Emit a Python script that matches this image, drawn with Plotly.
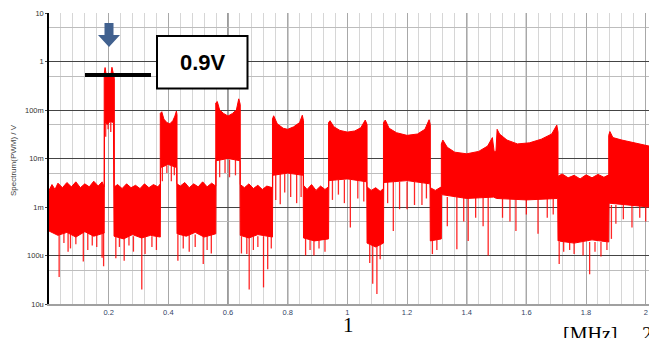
import plotly.graph_objects as go

# ---------------- data ----------------
# Upper envelope of the PWM spectrum: frequency [MHz], amplitude [V]
upper_freq = [0.000, 0.010, 0.020, 0.030, 0.045, 0.060, 0.075, 0.090, 0.105, 0.120, 0.135, 0.150, 0.165, 0.178, 0.185,
              0.185, 0.188, 0.192, 0.200, 0.207, 0.211, 0.215, 0.219,
              0.219, 0.230, 0.245, 0.260, 0.275, 0.290, 0.305, 0.320, 0.335, 0.350, 0.365, 0.373,
              0.373, 0.378, 0.385, 0.395, 0.405, 0.415, 0.422, 0.427, 0.429,
              0.429, 0.440, 0.455, 0.470, 0.485, 0.500, 0.515, 0.530, 0.545, 0.559,
              0.559, 0.564, 0.572, 0.585, 0.600, 0.615, 0.628, 0.636, 0.641,
              0.641, 0.655, 0.670, 0.685, 0.700, 0.715, 0.730, 0.749,
              0.749, 0.753, 0.765, 0.785, 0.800, 0.820, 0.840, 0.849, 0.853,
              0.853, 0.865, 0.880, 0.895, 0.910, 0.925, 0.937,
              0.937, 0.942, 0.955, 0.975, 1.000, 1.025, 1.045, 1.060, 1.066,
              1.066, 1.080, 1.095, 1.110, 1.121,
              1.121, 1.127, 1.140, 1.165, 1.200, 1.235, 1.260, 1.274, 1.278,
              1.278, 1.295, 1.315,
              1.315, 1.320, 1.335, 1.360, 1.400, 1.440, 1.470, 1.486, 1.492,
              1.498, 1.502, 1.510, 1.535, 1.570, 1.610, 1.650, 1.685, 1.702, 1.706,
              1.706, 1.720, 1.740, 1.760, 1.780, 1.800, 1.820, 1.840, 1.860, 1.876,
              1.876, 1.880, 1.890, 1.920, 1.950, 1.980, 2.012]
upper_volt = [2.2e-3, 2.9e-3, 2.3e-3, 3.1e-3, 2.5e-3, 3.2e-3, 2.6e-3, 3.3e-3, 2.5e-3, 3.0e-3, 2.6e-3, 3.4e-3, 2.7e-3, 3.3e-3, 2.6e-3,
              0.55, 0.75, 0.52, 0.58, 0.50, 0.76, 0.55, 0.45,
              2.6e-3, 2.9e-3, 2.4e-3, 3.0e-3, 2.5e-3, 2.8e-3, 2.4e-3, 3.0e-3, 2.5e-3, 2.9e-3, 2.6e-3, 3.0e-3,
              0.085, 0.092, 0.065, 0.055, 0.052, 0.060, 0.075, 0.095, 0.080,
              3.0e-3, 2.7e-3, 3.2e-3, 2.5e-3, 3.0e-3, 2.6e-3, 3.3e-3, 2.6e-3, 3.1e-3, 2.7e-3,
              0.14, 0.15, 0.10, 0.085, 0.075, 0.085, 0.10, 0.17, 0.13,
              2.9e-3, 2.5e-3, 3.0e-3, 2.4e-3, 2.8e-3, 2.3e-3, 2.7e-3, 2.5e-3,
              0.065, 0.076, 0.052, 0.042, 0.040, 0.045, 0.055, 0.078, 0.060,
              2.8e-3, 2.3e-3, 2.9e-3, 2.2e-3, 2.7e-3, 2.3e-3, 2.6e-3,
              0.055, 0.060, 0.045, 0.038, 0.035, 0.037, 0.043, 0.062, 0.050,
              2.6e-3, 2.2e-3, 2.5e-3, 2.1e-3, 2.4e-3,
              0.055, 0.062, 0.042, 0.034, 0.030, 0.032, 0.040, 0.063, 0.050,
              2.5e-3, 2.2e-3, 2.6e-3,
              0.020, 0.024, 0.017, 0.0135, 0.0125, 0.014, 0.018, 0.027, 0.014,
              0.014, 0.040, 0.032, 0.024, 0.020, 0.021, 0.025, 0.032, 0.049, 0.035,
              4.3e-3, 4.8e-3, 4.0e-3, 4.5e-3, 3.8e-3, 4.6e-3, 4.0e-3, 4.7e-3, 4.1e-3, 4.6e-3,
              0.030, 0.036, 0.027, 0.024, 0.022, 0.020, 0.018]

# Lower envelope of the dense part of the spectrum
lower_freq = [0.000, 0.030, 0.060, 0.090, 0.120, 0.150, 0.185,
              0.186, 0.195, 0.205, 0.216, 0.218,
              0.219, 0.250, 0.280, 0.310, 0.340, 0.373,
              0.374, 0.400, 0.428,
              0.429, 0.460, 0.490, 0.520, 0.559,
              0.560, 0.600, 0.640,
              0.641, 0.670, 0.700, 0.749,
              0.750, 0.800, 0.852,
              0.853, 0.890, 0.937,
              0.938, 1.000, 1.065,
              1.066, 1.095, 1.121,
              1.122, 1.200, 1.277,
              1.278, 1.315,
              1.316, 1.400, 1.490,
              1.500, 1.600, 1.705,
              1.706, 1.760, 1.820, 1.876,
              1.877, 1.950, 2.012]
lower_volt = [3.2e-4, 2.6e-4, 3.0e-4, 2.4e-4, 3.1e-4, 2.5e-4, 2.9e-4,
              0.060, 0.050, 0.058, 0.055, 2.5e-4,
              2.5e-4, 2.2e-4, 2.7e-4, 2.3e-4, 2.6e-4, 2.4e-4,
              0.0065, 0.0075, 0.0065,
              2.8e-4, 2.5e-4, 3.0e-4, 2.4e-4, 2.8e-4,
              0.0090, 0.0100, 0.0090,
              2.6e-4, 2.3e-4, 2.7e-4, 2.4e-4,
              0.0045, 0.0050, 0.0045,
              2.3e-4, 2.0e-4, 2.2e-4,
              0.0035, 0.0038, 0.0033,
              1.8e-4, 1.5e-4, 1.8e-4,
              0.0032, 0.0035, 0.0030,
              2.0e-4, 2.2e-4,
              0.0018, 0.0015, 0.0016,
              0.0015, 0.0014, 0.0015,
              2.0e-4, 1.8e-4, 2.1e-4, 1.9e-4,
              0.0012, 0.0011, 0.0010]

# Downward spikes below the dense part: frequency [MHz], from top [V] to bottom [V]
spike_freq = [0.034, 0.050, 0.064, 0.072, 0.090, 0.115, 0.130, 0.145, 0.160, 0.178, 0.183,
              0.190, 0.198, 0.207,
              0.224, 0.236, 0.252, 0.268, 0.283, 0.311, 0.322, 0.345, 0.360,
              0.380, 0.395, 0.410, 0.420,
              0.432, 0.450, 0.470, 0.490, 0.517, 0.530, 0.544,
              0.572, 0.590, 0.605, 0.625,
              0.645, 0.663, 0.671, 0.685, 0.700, 0.719, 0.733, 0.745,
              0.760, 0.775, 0.790, 0.810, 0.830, 0.845,
              0.860, 0.875, 0.888, 0.905, 0.925,
              0.950, 0.970, 0.990, 1.010, 1.035, 1.055,
              1.075, 1.085, 1.099, 1.110,
              1.135, 1.154, 1.175, 1.200, 1.225, 1.250, 1.265,
              1.285, 1.300,
              1.335, 1.367, 1.390, 1.405, 1.430, 1.455, 1.472,
              1.520, 1.545, 1.565, 1.600, 1.639, 1.670, 1.690,
              1.710, 1.725, 1.745, 1.760, 1.790, 1.812, 1.830, 1.850, 1.870,
              1.885, 1.900, 1.925, 1.954, 1.980, 2.000]
spike_top = [3e-4] * 11 + [0.058] * 3 + [2.5e-4] * 9 + [0.007] * 4 + [2.7e-4] * 7 + [0.0095] * 4 + \
            [2.5e-4] * 8 + [0.0048] * 6 + [2.2e-4] * 5 + [0.0036] * 6 + [1.7e-4] * 4 + [0.0033] * 7 + \
            [2.1e-4] * 2 + [0.0016] * 7 + [0.0015] * 7 + [1.9e-4] * 9 + [0.0011] * 6
spike_bottom = [3.6e-5, 1.8e-4, 1.2e-4, 1.4e-4, 1.7e-4, 7.5e-5, 1.3e-4, 1.6e-4, 1.5e-4, 9.0e-5, 6.0e-5,
                0.028, 0.040, 0.035,
                8.8e-5, 1.5e-4, 7.8e-5, 1.6e-4, 1.2e-4, 2.0e-5, 1.07e-4, 1.5e-4, 1.3e-4,
                0.0034, 0.0050, 0.0034, 0.0045,
                7.8e-5, 1.4e-4, 1.2e-4, 1.5e-4, 6.7e-5, 1.3e-4, 1.1e-4,
                0.0041, 0.0050, 0.0041, 0.0045,
                1.1e-4, 1.07e-4, 2.0e-5, 1.3e-4, 1.5e-4, 2.2e-5, 5.2e-5, 1.4e-4,
                0.0014, 0.00114, 0.0020, 0.0016, 0.0012, 0.0016,
                1.0e-4, 1.3e-4, 1.0e-4, 1.4e-4, 1.2e-4,
                0.0014, 0.0018, 0.0012, 0.00038, 0.0015, 0.0013,
                7.0e-5, 2.6e-5, 1.6e-5, 8.4e-5,
                0.0012, 0.00032, 0.0009, 0.0009, 0.0011, 0.0011, 0.0015,
                1.07e-4, 1.3e-4,
                0.0004, 0.000135, 0.0005, 0.0002, 0.0006, 0.0004, 0.0001,
                0.0006, 0.0005, 0.00032, 0.0007, 0.00028, 0.0006, 0.0007,
                6.7e-5, 1.2e-4, 1.3e-4, 1.07e-4, 1.0e-4, 4.1e-5, 1.2e-4, 9.5e-5, 1.3e-4,
                0.00022, 0.00045, 0.00056, 0.00038, 0.0006, 0.0005]

y_tick_vals = [1e-5, 1e-4, 1e-3, 1e-2, 1e-1, 1, 10]
y_tick_text = ["10u", "100u", "1m", "10m", "100m", "1", "10"]
y_minor_vals = [5e-5, 5e-4, 5e-3, 5e-2, 5e-1, 5]
x_tick_vals = [0.2, 0.4, 0.6, 0.8, 1.0, 1.2, 1.4, 1.6, 1.8, 2.0]
x_tick_text = ["0.2", "0.4", "0.6", "0.8", "1", "1.2", "1.4", "1.6", "1.8", "2"]
x_dark_grid = [0.6, 0.8, 1.4, 1.6]

# ---------------- layout helpers (pixel -> paper) ----------------
L, T, W, H = 49, 13, 600, 291


def pxx(x):
    return (x - L) / W


def pxy(y):
    return (T + H - y) / H


fig = go.Figure()

# dense spectrum body
fig.add_trace(go.Scatter(
    x=upper_freq + lower_freq[::-1],
    y=upper_volt + lower_volt[::-1],
    mode="lines", fill="toself", fillcolor="#ff0000",
    line=dict(color="#ff0000", width=1), hoverinfo="skip", showlegend=False))

# spikes
sx, sy = [], []
for f, t, b in zip(spike_freq, spike_top, spike_bottom):
    sx += [f, f, None]
    sy += [t, b, None]
fig.add_trace(go.Scatter(x=sx, y=sy, mode="lines",
                         line=dict(color="rgba(255,0,0,0.85)", width=1.3),
                         hoverinfo="skip", showlegend=False))

shapes = []
for xv in x_dark_grid:
    shapes.append(dict(type="line", xref="x", yref="paper", x0=xv, x1=xv, y0=0, y1=1,
                       line=dict(color="#555555", width=1.2), layer="below"))

# blue arrow
ax = [104.5, 113.5, 113.5, 120, 109, 98, 104.5, 104.5]
ay = [23, 23, 35, 35, 47, 35, 35, 23]
path = "M " + " L ".join(f"{pxx(a):.5f},{pxy(b):.5f}" for a, b in zip(ax, ay)) + " Z"
shapes.append(dict(type="path", xref="paper", yref="paper", path=path,
                   fillcolor="#41618f", line=dict(width=0), layer="above"))
# black level bar
shapes.append(dict(type="line", xref="paper", yref="paper", x0=pxx(85), x1=pxx(151),
                   y0=pxy(75), y1=pxy(75), line=dict(color="black", width=4), layer="above"))
# label box
shapes.append(dict(type="rect", xref="paper", yref="paper", x0=pxx(157), x1=pxx(247.5),
                   y0=pxy(88.5), y1=pxy(36), fillcolor="white",
                   line=dict(color="black", width=2), layer="above"))

annotations = [
    dict(text="<b>0.9V</b>", xref="paper", yref="paper", x=pxx(202.5), y=pxy(62.5),
         xanchor="center", yanchor="middle", showarrow=False,
         font=dict(family="Arial", size=22, color="black")),
    dict(text="Spectrum(PWM) / V", xref="paper", yref="paper", x=pxx(13), y=pxy(160),
         xanchor="center", yanchor="middle", textangle=-90, showarrow=False,
         font=dict(family="Arial", size=8, color="#444444")),
    dict(text="1", xref="paper", yref="paper", x=pxx(348), y=pxy(311),
         xanchor="center", yanchor="top", showarrow=False,
         font=dict(family="Liberation Serif", size=21, color="black")),
    dict(text="[MHz]", xref="paper", yref="paper", x=pxx(590), y=pxy(321),
         xanchor="center", yanchor="top", showarrow=False,
         font=dict(family="Liberation Serif", size=20, color="black")),
    dict(text="2", xref="paper", yref="paper", x=pxx(640), y=pxy(321),
         xanchor="left", yanchor="top", showarrow=False,
         font=dict(family="Liberation Serif", size=20, color="black")),
]

fig.update_layout(
    width=649, height=338,
    margin=dict(l=L, r=0, t=T, b=338 - T - H, pad=0),
    paper_bgcolor="white", plot_bgcolor="white",
    shapes=shapes, annotations=annotations, showlegend=False,
    xaxis=dict(range=[0, 2.011], tickmode="array", tickvals=x_tick_vals, ticktext=x_tick_text,
               showgrid=True, gridcolor="#a8a8a8", gridwidth=1,
               minor=dict(dtick=0.04, tick0=0, showgrid=True, gridcolor="#d6d6d6", gridwidth=1),
               showline=True, linecolor="#a0a0a0", linewidth=2, ticks="",
               tickfont=dict(family="Arial", size=7.5, color="#334466"), zeroline=False),
    yaxis=dict(type="log", range=[-5, 1], tickmode="array", tickvals=y_tick_vals, ticktext=y_tick_text,
               showgrid=True, gridcolor="#444444", gridwidth=1,
               minor=dict(tickmode="array", tickvals=y_minor_vals, showgrid=True,
                          gridcolor="#bdbdbd", gridwidth=1),
               showline=True, linecolor="black", linewidth=1.5,
               ticks="outside", ticklen=2, tickcolor="#444444",
               tickfont=dict(family="Arial", size=7.5, color="#333333"), zeroline=False),
)

fig.write_html("out.html", config={"displayModeBar": False},
               post_script="document.body.style.margin='0';document.body.style.overflow='hidden';")
